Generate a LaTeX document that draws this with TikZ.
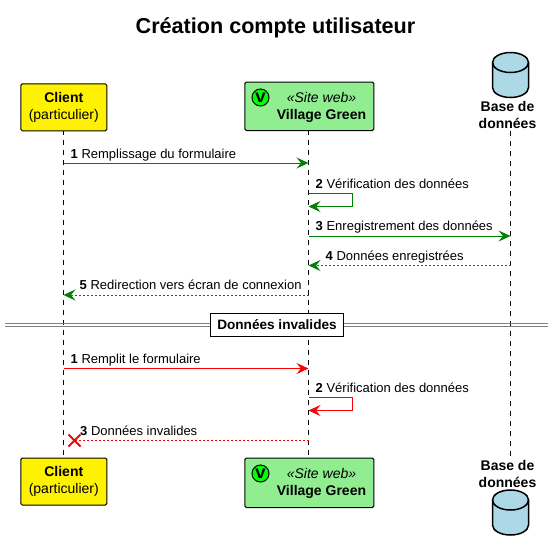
\documentclass[tikz,border=0pt]{standalone}
\usepackage{fontspec}
\setmainfont{Liberation Sans}
\newfontfamily\monob{Liberation Mono}
\usetikzlibrary{arrows.meta,shapes.misc}
\definecolor{okgreen}{RGB}{0,128,0}
\definecolor{partgreen}{RGB}{144,238,144}
\definecolor{dbblue}{RGB}{173,216,230}
\tikzset{
 x=1pt,y=-1pt,
 part/.style={draw=black,line width=1pt,rounded corners=1.5pt,inner sep=0pt,align=center,anchor=north west},
 msg/.style={font=\fontsize{13}{15}\selectfont,anchor=base west,inner sep=0pt},
 life/.style={line width=1pt,dash pattern=on 5pt off 5pt},
 tip/.style={-{Stealth[length=12pt,width=11pt,inset=4.5pt]}},
 gmsg/.style={draw=okgreen,tip,line width=1pt},
 rmsg/.style={draw=red,tip,line width=1pt},
 gret/.style={gmsg,dash pattern=on 2pt off 2pt},
 rret/.style={draw=red,line width=1pt,dash pattern=on 2pt off 2pt},
 dbtext/.style={font=\fontsize{14}{17}\selectfont\bfseries,align=center,inner sep=0pt,anchor=center},
 badge/.style={circle,draw=black,fill=green,line width=1pt,minimum size=17pt,inner sep=0pt,font=\fontsize{18}{18}\selectfont\monob\bfseries},
 dbcyl/.style={draw=black,fill=dbblue,line width=1.5pt},
}
\newcommand{\dbcylinder}[2]{%
 \draw[dbcyl] (#1-18,#2+10) arc[start angle=180,end angle=0,x radius=18,y radius=-10]
   -- (#1+18,#2+35) arc[start angle=0,end angle=-180,x radius=18,y radius=-10] -- cycle;
 \draw[dbcyl,fill=none] (#1-18,#2+10) arc[start angle=180,end angle=360,x radius=18,y radius=-10];}
\begin{document}
\begin{tikzpicture}
\useasboundingbox (0,0) rectangle (554,552);
\node[inner sep=0pt,font=\fontsize{21.6}{26}\selectfont\bfseries] (title) at (275.5,27.5) {Création compte utilisateur};
% lifelines ends
\coordinate (cT) at (63.5,130);\coordinate (cB) at (63.5,457.5);
\coordinate (wT) at (308.5,130);\coordinate (wB) at (308.5,457.5);
\coordinate (dT) at (510.5,131);\coordinate (dB) at (510.5,458);
\draw[life] (cT)--(cB);
\draw[life] (wT)--(wB);
\draw[life] (dT)--(dB);
% participants
\node[part,fill=yellow,minimum width=86pt,minimum height=47pt,font=\fontsize{14}{17}\selectfont] (client) at (20.3,83.3) {\bfseries Client\\(particulier)};
\node[part,fill=yellow,minimum width=86pt,minimum height=47pt,font=\fontsize{14}{17}\selectfont] (client2) at (20.3,457.5) {\bfseries Client\\(particulier)};
\node[part,fill=partgreen,minimum width=129pt,minimum height=48.5pt] (web) at (244.3,81.5) {};
\node[part,fill=partgreen,minimum width=129pt,minimum height=49.5pt] (web2) at (244.3,457.5) {};
\node[badge] (v1) at (260.5,97.5) {v};
\node[badge] (v2) at (260.5,473.5) {v};
\node[inner sep=0pt,font=\fontsize{14}{17}\selectfont,align=center] (webt) at (321.5,107) {\itshape «Site web»\\\bfseries Village Green};
\node[inner sep=0pt,font=\fontsize{14}{17}\selectfont,align=center] (webt2) at (321.5,483) {\itshape «Site web»\\\bfseries Village Green};
\node[dbtext] (db) at (507.5,115) {Base de\\données};
\node[dbtext] (db2) at (507.5,474) {Base de\\données};
\dbcylinder{510.5}{52.5}
\dbcylinder{510.5}{490}
% messages
\coordinate (m1a) at (63.5,163);\coordinate (m1b) at (308.5,163);
\draw[gmsg] (m1a)--(m1b);
\node[msg] (l1) at (70.5,158) {\textbf{1} Remplissage du formulaire};
\coordinate (m2a) at (308.5,193.5);\coordinate (m2b) at (352,193.5);\coordinate (m2c) at (352,206.5);\coordinate (m2d) at (308.5,206.5);
\draw[gmsg] (m2a)--(m2b)--(m2c)--(m2d);
\node[msg] (l2) at (315.5,188) {\textbf{2} Vérification des données};
\coordinate (m3a) at (308.5,236);\coordinate (m3b) at (510.5,236);
\draw[gmsg] (m3a)--(m3b);
\node[msg] (l3) at (315.5,230) {\textbf{3} Enregistrement des données};
\coordinate (m4a) at (510.5,265.5);\coordinate (m4b) at (308.5,265.5);
\draw[gret] (m4a)--(m4b);
\node[msg] (l4) at (325.5,260) {\textbf{4} Données enregistrées};
\coordinate (m5a) at (308.5,295);\coordinate (m5b) at (63.5,295);
\draw[gret] (m5a)--(m5b);
\node[msg] (l5) at (79.5,289) {\textbf{5} Redirection vers écran de connexion};
% separator
\coordinate (s1) at (5,323.5);\coordinate (s2) at (548,323.5);\coordinate (s3) at (5,326.5);\coordinate (s4) at (548,326.5);
\draw[gray,line width=1pt] (s1)--(s2) (s3)--(s4);
\node[draw=black,fill=white,line width=1pt,inner sep=0pt,minimum width=133pt,minimum height=23pt,font=\fontsize{13.6}{15}\selectfont\bfseries] (sep) at (277,325) {Données invalides};
% invalid
\coordinate (n1a) at (63.5,368.5);\coordinate (n1b) at (308.5,368.5);
\draw[rmsg] (n1a)--(n1b);
\node[msg] (k1) at (70.5,363) {\textbf{1} Remplit le formulaire};
\coordinate (n2a) at (308.5,397.5);\coordinate (n2b) at (352,397.5);\coordinate (n2c) at (352,410.5);\coordinate (n2d) at (308.5,410.5);
\draw[rmsg] (n2a)--(n2b)--(n2c)--(n2d);
\node[msg] (k2) at (315.5,392) {\textbf{2} Vérification des données};
\node[cross out,draw=red,line width=2pt,minimum size=10pt,inner sep=0pt] (x) at (74.5,440.5) {};
\coordinate (n3a) at (308.5,440.5);
\draw[rret] (n3a)--(x.center);
\node[msg] (k3) at (80,435) {\textbf{3} Données invalides};
\end{tikzpicture}
\end{document}
